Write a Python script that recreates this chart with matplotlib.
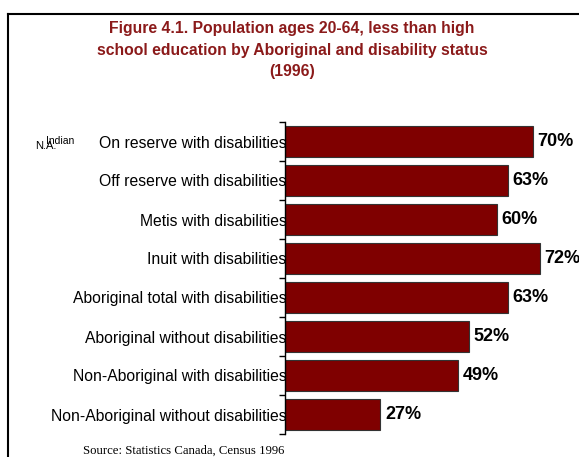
import matplotlib
matplotlib.use('Agg')
from matplotlib import pyplot as plt
import numpy as np

categories = ['On reserve with disabilities',
              'Off reserve with disabilities',
              'Metis with disabilities',
              'Inuit with disabilities',
              'Aboriginal total with disabilities',
              'Aboriginal without disabilities',
              'Non-Aboriginal with disabilities',
              'Non-Aboriginal without disabilities']
values = [70, 63, 60, 72, 63, 52, 49, 27]

title = ('Figure 4.1. Population ages 20-64, less than high\n'
         'school education by Aboriginal and disability status\n'
         '(1996)')
source = 'Source: Statistics Canada, Census 1996'

plt.rcParams['font.family'] = ['Liberation Sans', 'DejaVu Sans']

fig = plt.figure(figsize=(5.79, 4.57), dpi=100)
W, H = 579, 457

# outer frame: top and left lines only
fig.add_artist(plt.Line2D([8 / W, 1], [1 - 14 / H, 1 - 14 / H], color='black', lw=1.5))
fig.add_artist(plt.Line2D([8 / W, 8 / W], [0, 1 - 14 / H], color='black', lw=1.5))

ax = fig.add_axes([285 / W, 1 - 434 / H, 290 / W, 312 / H])
y = np.arange(len(categories))
ax.barh(y, values, height=0.82, color='#7f0000', edgecolor='#333333', linewidth=0.8)
ax.set_ylim(len(categories) - 0.5, -0.5)
ax.set_xlim(0, 82)

for yi, v in zip(y, values):
    ax.text(v + 1.3, yi, '{}%'.format(v), va='center', ha='left',
            fontsize=13, fontweight='bold')

ax.set_yticks(y)
ax.set_yticklabels(categories, fontsize=11.3)
ax.tick_params(axis='y', which='major', length=0, pad=-1)
ax.set_yticks(np.arange(len(categories) + 1) - 0.5, minor=True)
ax.tick_params(axis='y', which='minor', length=4, width=1)
ax.set_xticks([])
for side in ['top', 'right', 'bottom']:
    ax.spines[side].set_visible(False)
ax.spines['left'].set_linewidth(1)

fig.text(292 / W, 1 - 21 / H, title, ha='center', va='top', fontsize=11.3,
         fontweight='bold', color='#8b1a1a', linespacing=1.55)
fig.text(35 / W, 1 - 146 / H, 'N.A.', fontsize=8, va='center')
fig.text(46 / W, 1 - 141 / H, 'Indian', fontsize=7.5, va='center')
fig.text(184 / W, 1 - 451 / H, source, ha='center', va='center', fontsize=9.2,
         family='Liberation Serif')

fig.savefig('out.png', dpi=100)
